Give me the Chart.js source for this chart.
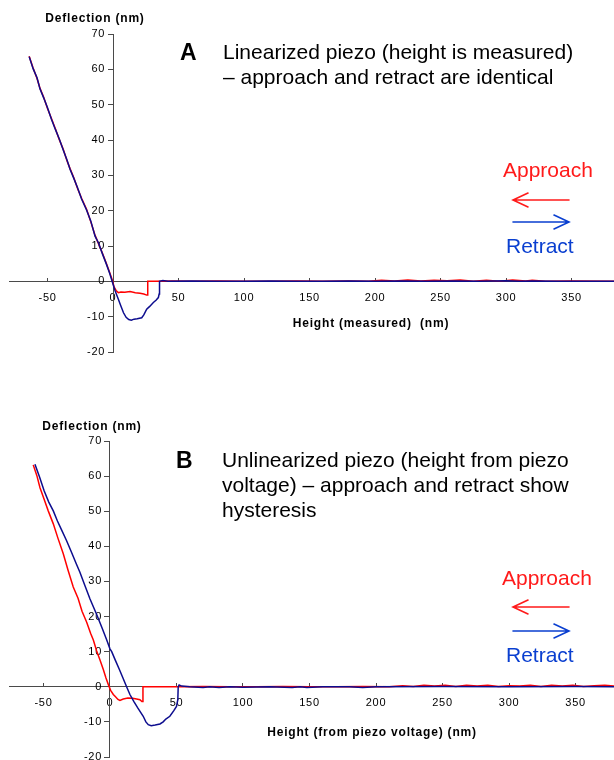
<!DOCTYPE html>
<html>
<head>
<meta charset="utf-8">
<script src="https://cdn.jsdelivr.net/npm/chart.js@4/dist/chart.umd.min.js"></script>
<style>
  html, body { margin: 0; padding: 0; background: #fff; overflow: hidden; width: 614px; height: 760px; }
  .panel { position: absolute; left: 0; width: 614px; }
  #panelA { top: 0; height: 400px; }
  #panelB { top: 400px; height: 380px; }
</style>
</head>
<body>
<div class="panel" id="panelA"><canvas id="chartA" width="614" height="400"></canvas></div>
<div class="panel" id="panelB"><canvas id="chartB" width="614" height="380"></canvas></div>
<script>
// Axis tick labels (nm)
const heightTicks = [-50, 0, 50, 100, 150, 200, 250, 300, 350];
const deflectionTicks = [-20, -10, 0, 10, 20, 30, 40, 50, 60, 70];

// Force curves: [height (nm), deflection (nm)]
// A: linearized piezo, height measured by sensor
const approachA = [
  [-64, 63.7], [-61, 60.4], [-58, 57.4], [-55.7, 54.6], [-53, 52.2], [-50, 48.9], [-47, 46.1],
  [-44, 43.2], [-41, 40.1], [-38, 37.4], [-35, 34.0], [-32.8, 31.9], [-30, 29.4], [-27, 26.2],
  [-24, 23.5], [-20.2, 20.4], [-17, 16.9], [-13.7, 13.0], [-11, 10.6], [-8, 7.9], [-5, 5.0],
  [-2.5, 2.4], [-0.5, 0.3], [0.8, -1.6], [2.5, -2.7], [4, -3.2], [6, -3.0], [9, -3.1], [13, -2.9],
  [17, -3.2], [20.6, -3.4], [23.5, -3.6], [25.7, -3.9], [26.3, -3.9], [26.5, 0], [32, 0],
  [45, 0.1], [60, 0], [80, 0.1], [100, 0], [120, 0], [140, 0.1], [160, 0], [180, 0.1], [195, 0],
  [205, 0.3], [215, 0.1], [225, 0.4], [235, 0.1], [245, 0.3], [255, 0.2], [265, 0.4], [275, 0],
  [285, 0.3], [295, 0], [305, 0.4], [315, 0.1], [320, 0.3], [330, 0], [350, 0.1], [383, 0]
];
const retractA = [
  [-64, 63.6], [-61, 60.2], [-58, 57.6], [-55.7, 54.4], [-53, 52.0], [-50, 49.1], [-47, 45.9],
  [-44, 43.0], [-41, 40.3], [-38, 37.2], [-35, 34.2], [-32.8, 31.7], [-30, 29.2], [-27, 26.4],
  [-24, 23.3], [-20.2, 20.2], [-17, 17.1], [-13.7, 12.8], [-11, 10.8], [-8, 7.7], [-5, 4.8],
  [-2.5, 2.2], [-0.5, -0.2], [1.5, -2.6], [4, -5.0], [6, -7.0], [8, -8.9], [10, -10.2], [12, -10.8],
  [14, -11.0], [16, -10.7], [18.5, -10.6], [21.9, -10.3], [23.5, -9.5], [25.7, -7.9], [28, -7.1],
  [30.8, -6.0], [33, -5.3], [34.6, -4.6], [35.2, -3.6], [35.5, 0], [38, 0.2], [42, 0], [60, 0.1],
  [80, 0], [100, 0], [120, 0.1], [140, 0], [160, 0], [180, 0.1], [200, 0], [220, 0.1], [240, 0],
  [260, 0.1], [280, 0], [300, 0.2], [310, 0], [320, 0.1], [340, 0], [360, 0], [383, 0]
];

// B: unlinearized piezo, height derived from piezo voltage
const approachB = [
  [-57.7, 63.2], [-55, 60.2], [-52.6, 56.7], [-49.5, 53.4], [-46.4, 50.1], [-42.6, 46.4],
  [-39, 42.2], [-35.1, 37.9], [-31.5, 33.2], [-27.6, 28.4], [-24, 25.2], [-21, 21.5],
  [-17.5, 18.4], [-14.5, 15.2], [-12.5, 13.3], [-10, 10.2], [-7.5, 7.6], [-5, 4.9], [-3, 2.5],
  [-1, 0.4], [0.5, -1.0], [2.5, -2.2], [4, -2.8], [6, -3.6], [7.5, -3.9], [10, -3.5],
  [13.5, -3.2], [17, -3.3], [20, -3.5], [22.5, -3.7], [24, -4.2], [24.6, -4.2], [24.8, 0],
  [35, 0], [50, 0], [70, 0.1], [90, 0], [110, 0], [130, 0.1], [150, 0], [170, 0], [190, 0.1],
  [210, 0], [220, 0.3], [228, 0.1], [236, 0.4], [244, 0.2], [252, 0.4], [260, 0.1], [268, 0.4],
  [276, 0.2], [284, 0.4], [292, 0.1], [300, 0.3], [308, 0.2], [316, 0.4], [324, 0.1], [332, 0.4],
  [340, 0.2], [348, 0.4], [356, 0.1], [364, 0.3], [372, 0.4], [380, 0.2]
];
const retractB = [
  [-56.4, 63.4], [-53, 59.8], [-49.5, 55.8], [-46, 52.6], [-42.6, 50.1], [-39.5, 47.2],
  [-36.3, 44.6], [-32.6, 41.6], [-29, 38.4], [-25.5, 35.2], [-22.6, 32.6], [-19, 29.0],
  [-15, 25.0], [-10, 20.6], [-6, 16.8], [-2.5, 13.4], [0, 10.8], [1.3, 10.0], [4, 7.6], [7, 5.0],
  [10, 2.3], [12.5, 0], [15, -2.2], [18, -4.2], [21, -6.1], [25, -8.4], [27, -10.0],
  [28.8, -10.8], [31, -11.1], [34, -10.9], [37.6, -10.6], [40, -10.0], [42, -9.2], [45, -8.4],
  [48, -6.8], [50, -5.6], [51, -3.7], [51.3, 0], [52, 0.5], [54, 0.2], [60, 0], [70, -0.2],
  [75, 0], [82, -0.2], [90, 0], [100, -0.1], [120, 0], [137, -0.2], [143, 0], [148, -0.2],
  [160, 0], [180, 0], [190, -0.2], [200, 0], [250, 0.1], [300, 0], [350, 0.1], [380, 0]
];

const APPROACH_LINE = '#ff0000';
const RETRACT_LINE = '#0c0c8e';
const APPROACH_TEXT = '#ff1a1a';
const RETRACT_TEXT = '#0a3fd0';
const AXIS_COLOR = '#4a4a4a';
const FONT = '"Liberation Sans", Arial, sans-serif';

const toPoints = pairs => pairs.map(([x, y]) => ({ x, y }));

// Linear scale for an axis that crosses the plot at a data value:
// its tick labels are set off from the axis line by ticks.padding.
class CrossingLinearScale extends Chart.LinearScale {
  drawLabels(chartArea) {
    const shift = this.options.ticks.padding || 0;
    const ctx = this.ctx;
    ctx.save();
    ctx.translate(-shift, 0);
    super.drawLabels(chartArea);
    ctx.restore();
  }
}
CrossingLinearScale.id = 'crossingLinear';
CrossingLinearScale.defaults = Chart.LinearScale.defaults;
Chart.register(CrossingLinearScale);

// Panel captions, axis titles and direction arrows
const figureText = {
  id: 'figureText',
  beforeDraw(chart) {
    chart.ctx.letterSpacing = '0.7px';
  },
  afterDraw(chart, args, opts) {
    const ctx = chart.ctx;
    ctx.save();
    ctx.textBaseline = 'alphabetic';
    for (const t of opts.texts || []) {
      ctx.font = t.font;
      ctx.fillStyle = t.color || '#000';
      ctx.textAlign = t.align || 'left';
      ctx.letterSpacing = t.spacing || '0px';
      ctx.fillText(t.text, t.x, t.y);
    }
    for (const a of opts.arrows || []) {
      ctx.strokeStyle = a.color;
      ctx.lineWidth = 1.6;
      ctx.lineCap = 'round';
      ctx.beginPath();
      ctx.moveTo(a.x1, a.y);
      ctx.lineTo(a.x2, a.y);
      const tip = a.dir < 0 ? a.x1 : a.x2;
      const back = tip - a.dir * 15;
      ctx.moveTo(back, a.y - 7);
      ctx.lineTo(tip, a.y);
      ctx.lineTo(back, a.y + 7);
      ctx.stroke();
    }
    ctx.restore();
  }
};

function buildChart(canvasId, cfg) {
  const tickFont = { family: FONT, size: 11 };
  return new Chart(document.getElementById(canvasId), {
    type: 'scatter',
    data: {
      datasets: [
        { label: 'Retract', data: toPoints(cfg.retract), showLine: true, borderColor: RETRACT_LINE,
          borderWidth: 1.5, pointRadius: 0, tension: 0 },
        { label: 'Approach', data: toPoints(cfg.approach), showLine: true, borderColor: APPROACH_LINE,
          borderWidth: 1.5, pointRadius: 0, tension: 0 }
      ]
    },
    options: {
      responsive: false,
      animation: false,
      layout: { padding: cfg.padding },
      plugins: {
        legend: { display: false },
        tooltip: { enabled: false },
        figureText: { texts: cfg.texts, arrows: cfg.arrows }
      },
      scales: {
        x: {
          type: 'linear',
          position: { y: 0 },
          min: cfg.xMin,
          max: cfg.xMax,
          afterBuildTicks: s => { s.ticks = heightTicks.map(v => ({ value: v })); },
          grid: { drawOnChartArea: false, drawTicks: true, tickLength: -4, color: AXIS_COLOR },
          border: { color: AXIS_COLOR, width: 1 },
          ticks: { font: tickFont, color: '#000', padding: 14, maxRotation: 0, autoSkip: false }
        },
        y: {
          type: 'crossingLinear',
          position: { x: 0 },
          min: -20,
          max: 70,
          afterBuildTicks: s => { s.ticks = deflectionTicks.map(v => ({ value: v })); },
          grid: { drawOnChartArea: false, drawTicks: true, tickLength: 5, color: AXIS_COLOR },
          border: { color: AXIS_COLOR, width: 1 },
          ticks: { font: tickFont, color: '#000', padding: 8, autoSkip: false }
        }
      }
    },
    plugins: [figureText]
  });
}

const bold12 = 'bold 12px ' + FONT;
const big = '21px ' + FONT;

buildChart('chartA', {
  approach: approachA,
  retract: retractA,
  xMin: -79.4, xMax: 382.4,
  padding: { left: 9, right: 0, top: 34, bottom: 48 },
  texts: [
    { text: 'Deflection (nm)', x: 95, y: 22, font: bold12, align: 'center', spacing: '0.8px' },
    { text: 'Height (measured)  (nm)', x: 371, y: 327, font: bold12, align: 'center', spacing: '0.8px' },
    { text: 'A', x: 180, y: 60, font: 'bold 23px ' + FONT },
    { text: 'Linearized piezo (height is measured)', x: 223, y: 59, font: big },
    { text: '\u2013 approach and retract are identical', x: 223, y: 84, font: big },
    { text: 'Approach', x: 503, y: 177, font: big, color: APPROACH_TEXT },
    { text: 'Retract', x: 506, y: 253, font: big, color: RETRACT_TEXT }
  ],
  arrows: [
    { x1: 513, x2: 569, y: 200, dir: -1, color: APPROACH_TEXT },
    { x1: 513, x2: 569, y: 222, dir: 1, color: RETRACT_TEXT }
  ]
});

buildChart('chartB', {
  approach: approachB,
  retract: retractB,
  xMin: -75.9, xMax: 378.9,
  padding: { left: 9, right: 0, top: 41, bottom: 23 },
  texts: [
    { text: 'Deflection (nm)', x: 92, y: 30, font: bold12, align: 'center', spacing: '0.8px' },
    { text: 'Height (from piezo voltage) (nm)', x: 372, y: 336, font: bold12, align: 'center', spacing: '0.8px' },
    { text: 'B', x: 176, y: 68, font: 'bold 23px ' + FONT },
    { text: 'Unlinearized piezo (height from piezo', x: 222, y: 67, font: big },
    { text: 'voltage) \u2013 approach and retract show', x: 222, y: 92, font: big },
    { text: 'hysteresis', x: 222, y: 117, font: big },
    { text: 'Approach', x: 502, y: 185, font: big, color: APPROACH_TEXT },
    { text: 'Retract', x: 506, y: 262, font: big, color: RETRACT_TEXT }
  ],
  arrows: [
    { x1: 513, x2: 569, y: 207, dir: -1, color: APPROACH_TEXT },
    { x1: 513, x2: 569, y: 231, dir: 1, color: RETRACT_TEXT }
  ]
});
</script>
</body>
</html>
